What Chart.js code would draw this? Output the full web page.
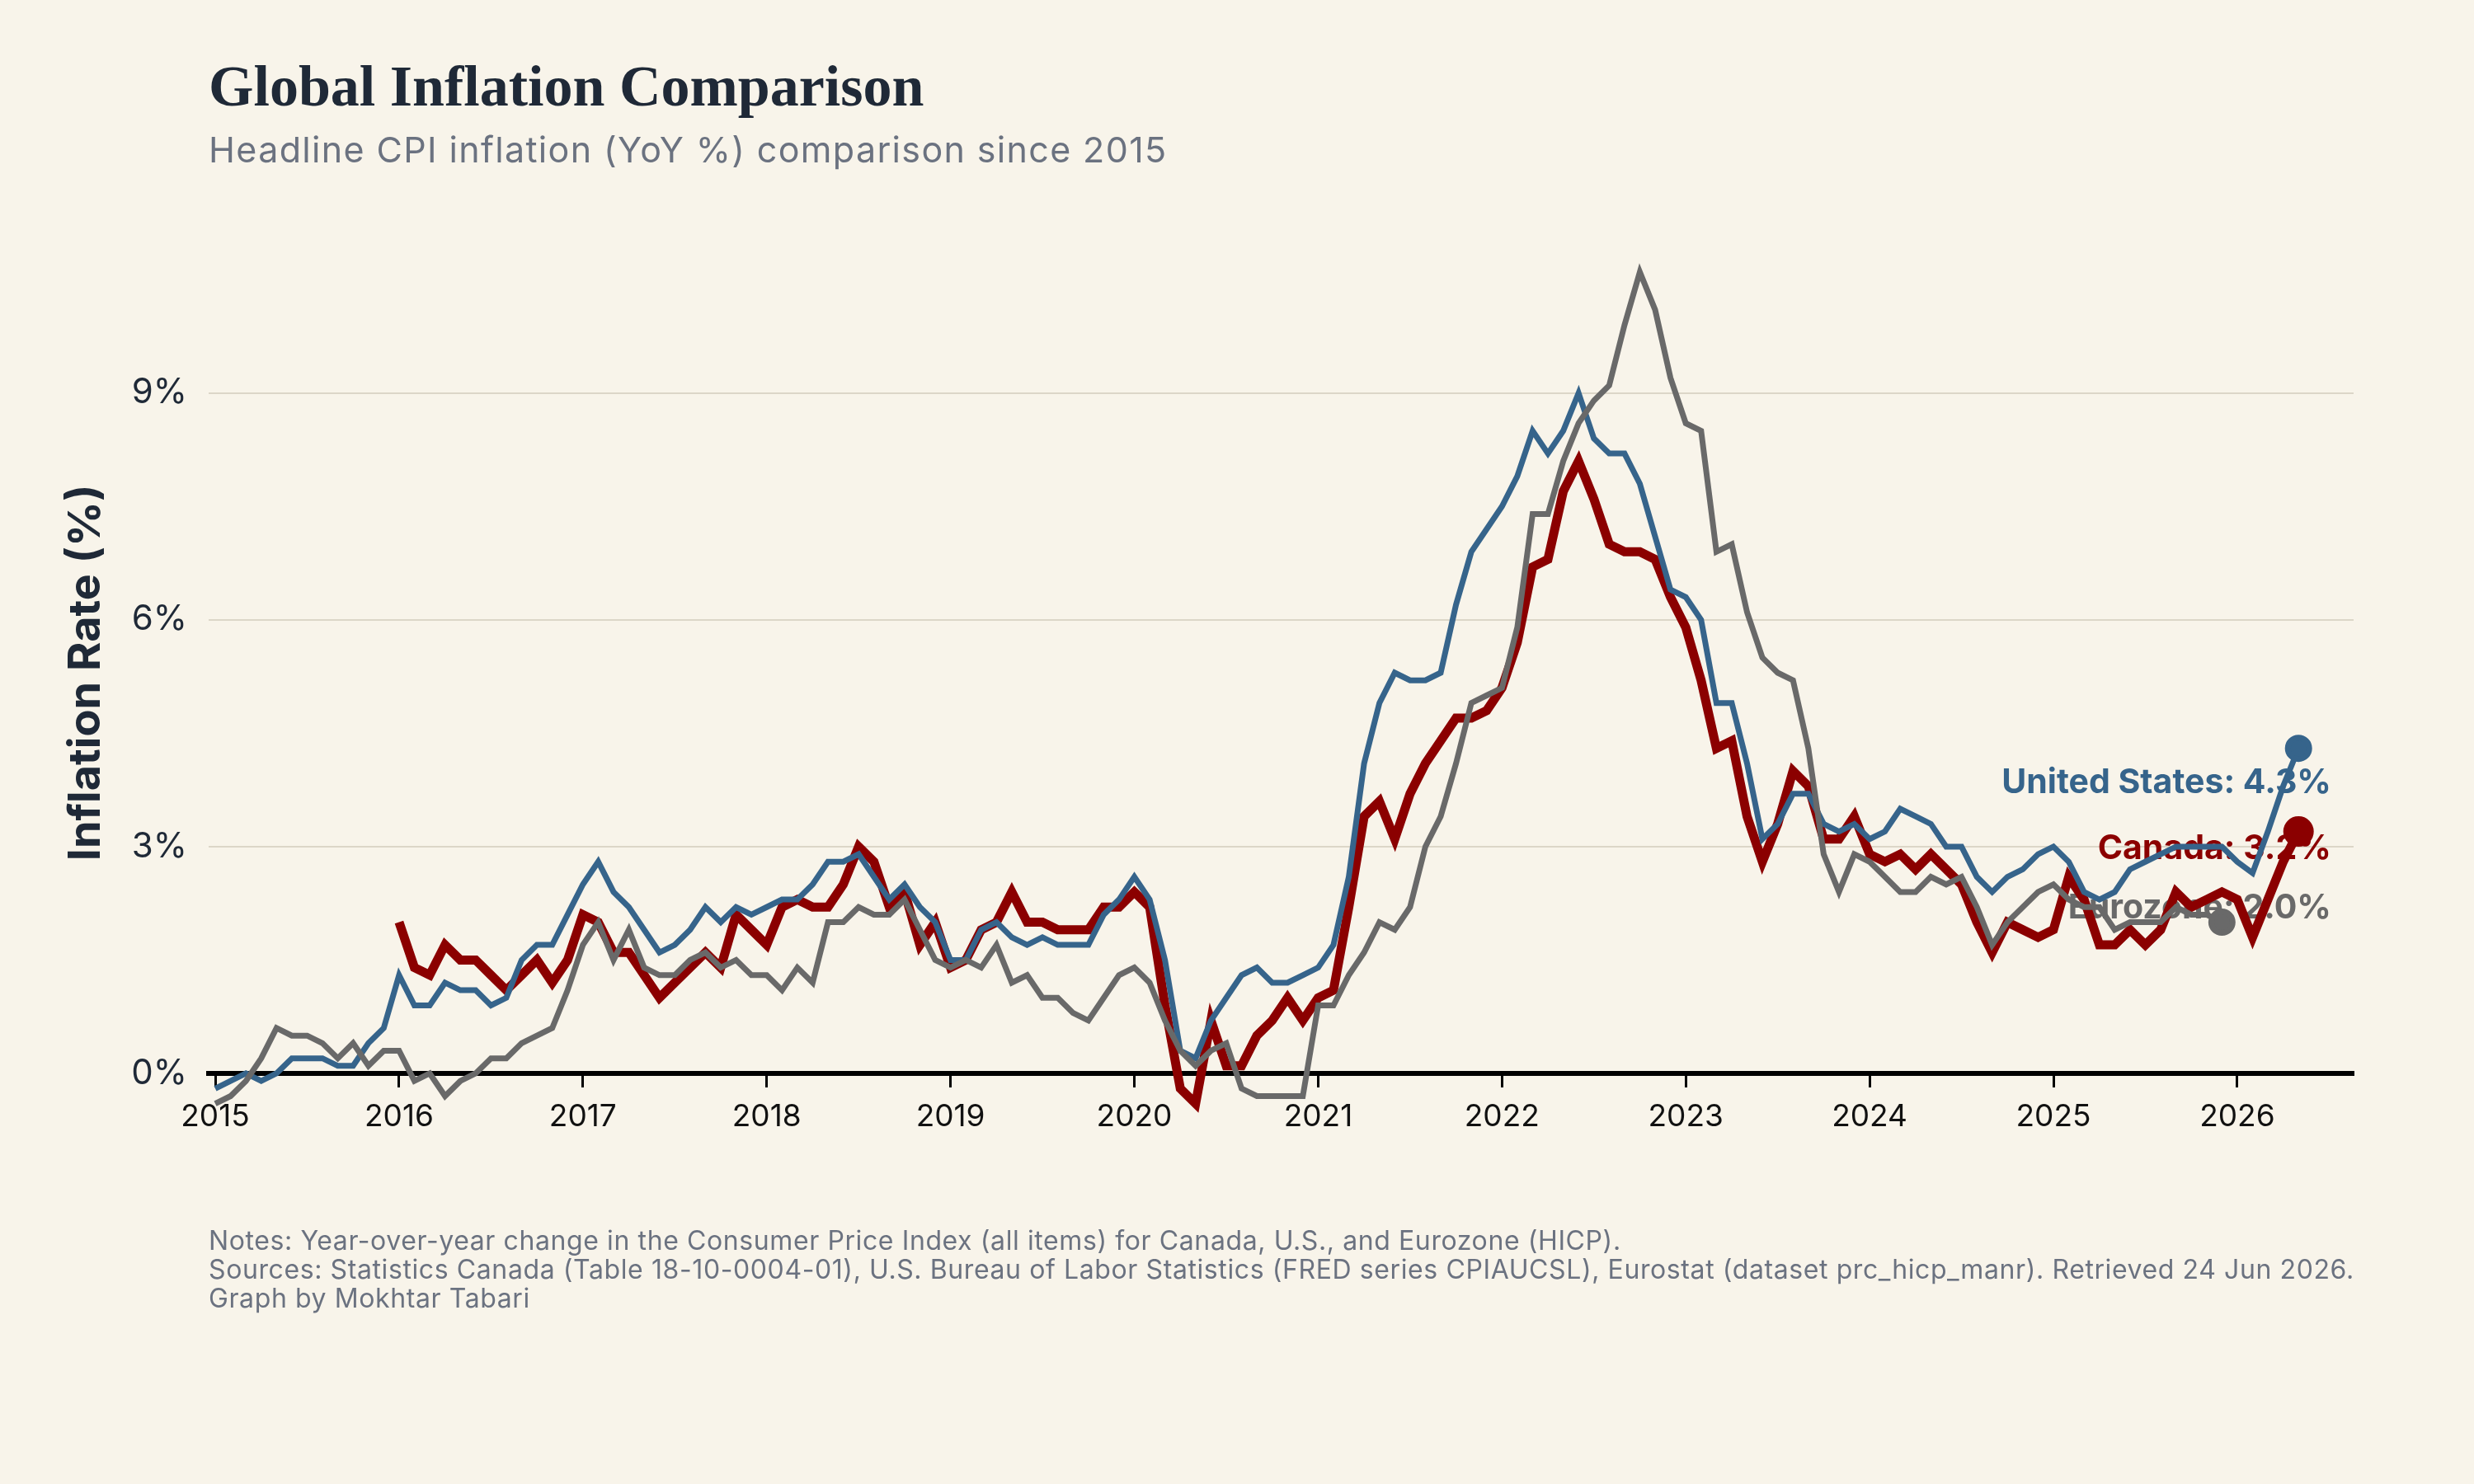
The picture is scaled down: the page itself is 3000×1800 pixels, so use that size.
<!DOCTYPE html>
<html>
<head>
<meta charset="utf-8">
<script src="https://cdn.jsdelivr.net/npm/chart.js@4.4.1/dist/chart.umd.min.js"></script>
<style>
  html, body { margin: 0; padding: 0; background: #f8f4ea; }
  #wrap { position: relative; width: 3000px; height: 1800px; background: #f8f4ea; overflow: hidden; }
  canvas { position: absolute; left: 0; top: 0; }
  .txt { position: absolute; left: 253px; white-space: nowrap; }
  #title { top: 70px; font-family: 'Liberation Serif', serif; font-weight: bold; font-size: 70px; line-height: 70px; color: #1f2937; }
  #subtitle { top: 160px; font-family: 'Inter', sans-serif; font-size: 43px; line-height: 43px; letter-spacing: 1.35px; color: #6b7280; }
  #notes { top: 1487px; font-family: 'Inter', sans-serif; font-size: 32px; line-height: 35px; letter-spacing: 0.6px; color: #6b7280; }
</style>
</head>
<body>
<div id="wrap">
  <canvas id="chart" width="3000" height="1800"></canvas>
  <div id="title" class="txt">Global Inflation Comparison</div>
  <div id="subtitle" class="txt">Headline CPI inflation (YoY %) comparison since 2015</div>
  <div id="notes" class="txt">Notes: Year-over-year change in the Consumer Price Index (all items) for Canada, U.S., and Eurozone (HICP).<br>Sources: Statistics Canada (Table 18-10-0004-01), U.S. Bureau of Labor Statistics (FRED series CPIAUCSL), Eurostat (dataset prc_hicp_manr). Retrieved 24 Jun 2026.<br>Graph by Mokhtar Tabari</div>
</div>
<script>
// ---- Data (monthly YoY %) ----
const usStart = [2015, 1];
const usValues = [
  -0.2, -0.1, 0.0, -0.1, 0.0, 0.2, 0.2, 0.2, 0.1, 0.1, 0.4, 0.6,   // 2015
  1.3, 0.9, 0.9, 1.2, 1.1, 1.1, 0.9, 1.0, 1.5, 1.7, 1.7, 2.1,      // 2016
  2.5, 2.8, 2.4, 2.2, 1.9, 1.6, 1.7, 1.9, 2.2, 2.0, 2.2, 2.1,      // 2017
  2.2, 2.3, 2.3, 2.5, 2.8, 2.8, 2.9, 2.6, 2.3, 2.5, 2.2, 2.0,      // 2018
  1.5, 1.5, 1.9, 2.0, 1.8, 1.7, 1.8, 1.7, 1.7, 1.7, 2.1, 2.3,      // 2019
  2.6, 2.3, 1.5, 0.3, 0.2, 0.7, 1.0, 1.3, 1.4, 1.2, 1.2, 1.3,      // 2020
  1.4, 1.7, 2.6, 4.1, 4.9, 5.3, 5.2, 5.2, 5.3, 6.2, 6.9, 7.2,      // 2021
  7.5, 7.9, 8.5, 8.2, 8.5, 9.0, 8.4, 8.2, 8.2, 7.8, 7.1, 6.4,      // 2022
  6.3, 6.0, 4.9, 4.9, 4.1, 3.1, 3.3, 3.7, 3.7, 3.3, 3.2, 3.3,      // 2023
  3.1, 3.2, 3.5, 3.4, 3.3, 3.0, 3.0, 2.6, 2.4, 2.6, 2.7, 2.9,      // 2024
  3.0, 2.8, 2.4, 2.3, 2.4, 2.7, 2.8, 2.9, 3.0, 3.0, 3.0, 3.0,      // 2025
  2.8, 2.65, 3.2, 3.8, 4.3                                          // 2026
];
const canadaStart = [2016, 1];
const canadaValues = [
  2.0, 1.4, 1.3, 1.7, 1.5, 1.5, 1.3, 1.1, 1.3, 1.5, 1.2, 1.5,      // 2016
  2.1, 2.0, 1.6, 1.6, 1.3, 1.0, 1.2, 1.4, 1.6, 1.4, 2.1, 1.9,      // 2017
  1.7, 2.2, 2.3, 2.2, 2.2, 2.5, 3.0, 2.8, 2.2, 2.4, 1.7, 2.0,      // 2018
  1.4, 1.5, 1.9, 2.0, 2.4, 2.0, 2.0, 1.9, 1.9, 1.9, 2.2, 2.2,      // 2019
  2.4, 2.2, 0.9, -0.2, -0.4, 0.7, 0.1, 0.1, 0.5, 0.7, 1.0, 0.7,    // 2020
  1.0, 1.1, 2.2, 3.4, 3.6, 3.1, 3.7, 4.1, 4.4, 4.7, 4.7, 4.8,      // 2021
  5.1, 5.7, 6.7, 6.8, 7.7, 8.1, 7.6, 7.0, 6.9, 6.9, 6.8, 6.3,      // 2022
  5.9, 5.2, 4.3, 4.4, 3.4, 2.8, 3.3, 4.0, 3.8, 3.1, 3.1, 3.4,      // 2023
  2.9, 2.8, 2.9, 2.7, 2.9, 2.7, 2.5, 2.0, 1.6, 2.0, 1.9, 1.8,      // 2024
  1.9, 2.6, 2.3, 1.7, 1.7, 1.9, 1.7, 1.9, 2.4, 2.2, 2.3, 2.4,      // 2025
  2.3, 1.8, 2.3, 2.8, 3.2                                           // 2026
];
const euroStart = [2015, 1];
const euroValues = [
  -0.4, -0.3, -0.1, 0.2, 0.6, 0.5, 0.5, 0.4, 0.2, 0.4, 0.1, 0.3,   // 2015
  0.3, -0.1, 0.0, -0.3, -0.1, 0.0, 0.2, 0.2, 0.4, 0.5, 0.6, 1.1,   // 2016
  1.7, 2.0, 1.5, 1.9, 1.4, 1.3, 1.3, 1.5, 1.6, 1.4, 1.5, 1.3,      // 2017
  1.3, 1.1, 1.4, 1.2, 2.0, 2.0, 2.2, 2.1, 2.1, 2.3, 1.9, 1.5,      // 2018
  1.4, 1.5, 1.4, 1.7, 1.2, 1.3, 1.0, 1.0, 0.8, 0.7, 1.0, 1.3,      // 2019
  1.4, 1.2, 0.7, 0.3, 0.1, 0.3, 0.4, -0.2, -0.3, -0.3, -0.3, -0.3, // 2020
  0.9, 0.9, 1.3, 1.6, 2.0, 1.9, 2.2, 3.0, 3.4, 4.1, 4.9, 5.0,      // 2021
  5.1, 5.9, 7.4, 7.4, 8.1, 8.6, 8.9, 9.1, 9.9, 10.6, 10.1, 9.2,    // 2022
  8.6, 8.5, 6.9, 7.0, 6.1, 5.5, 5.3, 5.2, 4.3, 2.9, 2.4, 2.9,      // 2023
  2.8, 2.6, 2.4, 2.4, 2.6, 2.5, 2.6, 2.2, 1.7, 2.0, 2.2, 2.4,      // 2024
  2.5, 2.3, 2.2, 2.2, 1.9, 2.0, 2.0, 2.0, 2.2, 2.1, 2.1, 2.0       // 2025
];
const xTickYears = [2015, 2016, 2017, 2018, 2019, 2020, 2021, 2022, 2023, 2024, 2025, 2026];
const yTickValues = [0, 3, 6, 9];
const seriesNames = ['United States', 'Canada', 'Eurozone'];

// ---- helpers ----
function toPoints(start, values) {
  return values.map((v, i) => ({ x: start[0] + (start[1] - 1 + i) / 12, y: v }));
}
const COLORS = { us: '#36648b', ca: '#8b0000', eu: '#696969' };
const lastRadius = (ctx) => ctx.dataIndex === ctx.dataset.data.length - 1 ? 13 : 0;

const endLabels = {
  id: 'endLabels',
  beforeDatasetsDraw(chart) {
    const { ctx, chartArea } = chart;
    const ys = chart.scales.y;
    ctx.save();
    ctx.font = 'bold 41px Inter';
    ctx.textAlign = 'right';
    ctx.textBaseline = 'middle';
    chart.data.datasets.forEach((ds) => {
      const last = ds.data[ds.data.length - 1];
      const y = ys.getPixelForValue(last.y) + ds.labelOffset;
      ctx.fillStyle = ds.borderColor;
      ctx.fillText(ds.label + ': ' + last.y.toFixed(1) + '%', chartArea.right - 27, y);
    });
    ctx.restore();
  }
};

new Chart(document.getElementById('chart'), {
  type: 'line',
  data: {
    datasets: [
      { label: seriesNames[2], data: toPoints(euroStart, euroValues), borderColor: COLORS.eu, backgroundColor: COLORS.eu,
        borderWidth: 7, order: 0, labelOffset: -17 },
      { label: seriesNames[0], data: toPoints(usStart, usValues), borderColor: COLORS.us, backgroundColor: COLORS.us,
        borderWidth: 7, order: 1, labelOffset: 42 },
      { label: seriesNames[1], data: toPoints(canadaStart, canadaValues), borderColor: COLORS.ca, backgroundColor: COLORS.ca,
        borderWidth: 11, order: 2, labelOffset: 21 }
    ]
  },
  options: {
    responsive: false,
    animation: false,
    devicePixelRatio: 1,
    layout: { padding: { left: 60, right: 146, top: 275, bottom: 443 } },
    plugins: { legend: { display: false }, tooltip: { enabled: false } },
    elements: {
      line: { tension: 0, borderJoinStyle: 'miter', fill: false },
      point: { radius: lastRadius, hoverRadius: lastRadius, borderWidth: 0 }
    },
    scales: {
      x: {
        type: 'linear',
        position: { y: 0 },
        min: 2014.964,
        max: 2026.633,
        afterBuildTicks: (s) => { s.ticks = xTickYears.map(v => ({ value: v })); },
        afterFit: (s) => { s.height = 0; },
        grid: { drawOnChartArea: false, drawTicks: true, tickLength: 14, tickWidth: 3, tickColor: '#000' },
        border: { display: true, color: '#000', width: 6 },
        ticks: { padding: 17, color: '#111111', font: { family: 'Inter', size: 37 },
          maxRotation: 0, autoSkip: false, callback: (v) => String(v) }
      },
      y: {
        min: -0.6,
        max: 11.2,
        afterBuildTicks: (s) => { s.ticks = yTickValues.map(v => ({ value: v })); },
        afterFit: (s) => { s.width = 193; },
        grid: { color: '#dcd6c8', lineWidth: 2, drawTicks: false },
        border: { display: false },
        ticks: { padding: 26, color: '#1f2937', font: { family: 'Inter', size: 42 }, callback: (v) => v + '%' },
        title: { display: true, text: 'Inflation Rate (%)', color: '#1f2937',
          font: { family: 'Inter', size: 54, weight: 'bold' }, padding: { top: 12, bottom: 0 } }
      }
    }
  },
  plugins: [endLabels]
});
</script>
</body>
</html>
